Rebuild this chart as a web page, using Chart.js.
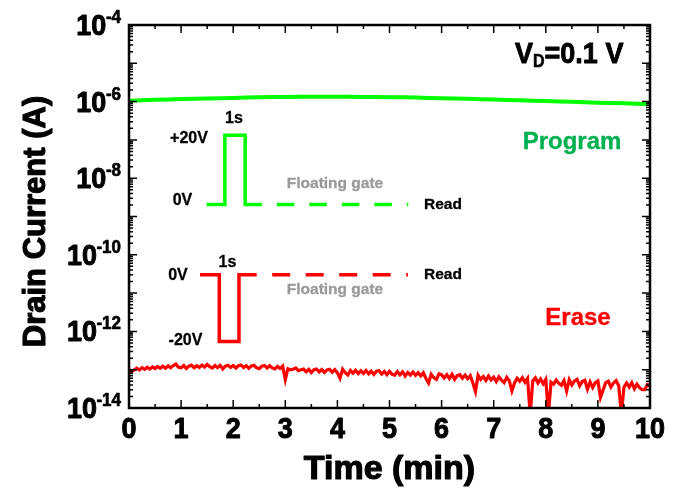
<!DOCTYPE html>
<html><head><meta charset="utf-8">
<script src="https://cdn.jsdelivr.net/npm/chart.js@4/dist/chart.umd.min.js"></script>
<style>html,body{margin:0;padding:0;background:#fff}canvas{display:block}</style>
</head><body>
<canvas id="c" width="677" height="492"></canvas>
<script>
// ---- Program (green) retention: time (min) / drain current (A)
const programTime = [0,0.25,0.5,0.75,1,1.25,1.5,1.75,2,2.25,2.5,2.75,3,3.25,3.5,3.75,4,4.25,4.5,4.75,5,5.25,5.5,5.75,6,6.25,6.5,6.75,7,7.25,7.5,7.75,8,8.25,8.5,8.75,9,9.25,9.5,9.75,10];
const programCurrent = [10.5e-7,10.8e-7,11.1e-7,11.4e-7,11.7e-7,11.9e-7,12.1e-7,12.3e-7,12.5e-7,12.7e-7,12.9e-7,13.1e-7,13.2e-7,13.3e-7,13.4e-7,13.3e-7,13.4e-7,13.3e-7,13.2e-7,13.2e-7,13.0e-7,12.9e-7,12.7e-7,12.5e-7,12.3e-7,12.1e-7,11.8e-7,11.6e-7,11.3e-7,11.0e-7,10.8e-7,10.6e-7,10.3e-7,10.1e-7,9.9e-7,9.6e-7,9.4e-7,9.2e-7,9.0e-7,8.8e-7,8.5e-7];

// ---- Erase (red) retention: time (min) / drain current (A)
const eraseTime = [0,0.05,0.1,0.15,0.2,0.25,0.3,0.35,0.4,0.45,0.5,0.55,0.6,0.65,0.7,0.75,0.8,0.85,0.9,0.95,
1,1.05,1.1,1.15,1.2,1.25,1.3,1.35,1.4,1.45,1.5,1.55,1.6,1.65,1.7,1.75,1.8,1.85,1.9,1.95,
2,2.05,2.1,2.15,2.2,2.25,2.3,2.35,2.4,2.45,2.5,2.55,2.6,2.65,2.7,2.75,2.8,2.85,2.9,2.95,
3,3.05,3.1,3.15,3.2,3.25,3.3,3.35,3.4,3.45,3.5,3.55,3.6,3.65,3.7,3.75,3.8,3.85,3.9,3.95,
4,4.05,4.1,4.15,4.2,4.25,4.3,4.35,4.4,4.45,4.5,4.55,4.6,4.65,4.7,4.75,4.8,4.85,4.9,4.95,
5,5.05,5.1,5.15,5.2,5.25,5.3,5.35,5.4,5.45,5.5,5.55,5.6,5.65,5.7,5.75,5.8,5.85,5.9,5.95,
6,6.05,6.1,6.15,6.2,6.25,6.3,6.35,6.4,6.45,6.5,6.55,6.6,6.65,6.7,6.75,6.8,6.85,6.9,6.95,
7,7.05,7.1,7.15,7.2,7.25,7.3,7.35,7.4,7.45,7.5,7.55,7.6,7.65,7.7,7.75,7.8,7.85,7.9,7.95,
8,8.05,8.1,8.15,8.2,8.25,8.3,8.35,8.4,8.45,8.5,8.55,8.6,8.65,8.7,8.75,8.8,8.85,8.9,8.95,
9,9.05,9.1,9.15,9.2,9.25,9.3,9.35,9.4,9.45,9.5,9.55,9.6,9.65,9.7,9.75,9.8,9.85,9.9,9.95,10];
const eraseCurrent = [10.0e-14,8.9e-14,9.9e-14,10.9e-14,9.8e-14,11.3e-14,10.2e-14,11.6e-14,10.4e-14,11.8e-14,10.7e-14,12.1e-14,10.9e-14,12.3e-14,11.0e-14,12.6e-14,11.2e-14,12.8e-14,14.0e-14,11.6e-14,
11.2e-14,12.9e-14,10.8e-14,12.4e-14,13.1e-14,11.2e-14,12.7e-14,11.4e-14,13.2e-14,11.7e-14,13.7e-14,12.0e-14,11.0e-14,12.9e-14,11.3e-14,13.0e-14,10.4e-14,12.4e-14,13.1e-14,11.5e-14,
12.9e-14,11.1e-14,12.7e-14,13.3e-14,11.3e-14,12.8e-14,10.9e-14,12.6e-14,13.0e-14,11.2e-14,10.6e-14,12.3e-14,12.9e-14,11.0e-14,12.7e-14,11.1e-14,10.5e-14,12.2e-14,10.8e-14,12.4e-14,
5.5e-14,10.6e-14,9.9e-14,10.3e-14,11.1e-14,9.5e-14,10.0e-14,10.4e-14,8.8e-14,10.2e-14,8.4e-14,10.0e-14,10.4e-14,8.7e-14,10.1e-14,8.5e-14,9.9e-14,10.3e-14,8.6e-14,10.0e-14,
8.3e-14,6.0e-14,10.3e-14,8.4e-14,7.3e-14,9.6e-14,8.1e-14,9.7e-14,7.9e-14,9.4e-14,8.0e-14,9.5e-14,7.8e-14,9.2e-14,7.5e-14,9.1e-14,9.4e-14,7.7e-14,9.0e-14,7.4e-14,
9.1e-14,7.6e-14,7.2e-14,8.9e-14,7.4e-14,8.8e-14,6.8e-14,8.5e-14,7.2e-14,8.7e-14,7.1e-14,8.4e-14,6.9e-14,8.3e-14,5.9e-14,4.5e-14,7.6e-14,6.2e-14,5.6e-14,7.8e-14,
7.3e-14,6.1e-14,7.4e-14,5.9e-14,7.6e-14,5.6e-14,7.0e-14,7.4e-14,6.0e-14,7.2e-14,5.8e-14,7.0e-14,4.5e-14,2.7e-14,7.2e-14,5.6e-14,6.6e-14,5.2e-14,6.8e-14,5.4e-14,
6.4e-14,4.9e-14,6.5e-14,5.3e-14,4.6e-14,6.3e-14,5.1e-14,2.8e-14,4.5e-14,6.0e-14,5.0e-14,6.2e-14,4.7e-14,5.9e-14,0.7e-14,5.1e-14,6.1e-14,4.5e-14,5.7e-14,4.3e-14,
5.6e-14,0.7e-14,4.7e-14,4.2e-14,5.4e-14,4.4e-14,3.9e-14,5.2e-14,2.8e-14,5.5e-14,4.0e-14,5.1e-14,5.6e-14,3.8e-14,4.9e-14,5.3e-14,3.1e-14,4.8e-14,3.4e-14,4.6e-14,
5.1e-14,1.9e-14,3.0e-14,4.6e-14,5.0e-14,3.5e-14,4.5e-14,5.2e-14,3.8e-14,0.7e-14,3.5e-14,4.5e-14,3.5e-14,4.6e-14,3.2e-14,4.2e-14,3.4e-14,3.0e-14,3.0e-14,4.1e-14,3.7e-14];

// ---- Inset schematic gate waveforms (drawn on the chart axes)
const programPulseTime  = [1.49, 1.84, 1.84, 2.23, 2.23, 2.55];
const programPulseLevel = [2.06e-9, 2.06e-9, 1.32e-7, 1.32e-7, 2.06e-9, 2.06e-9];
const programReadTime   = [2.55, 5.36];
const programReadLevel  = [2.06e-9, 2.06e-9];
const erasePulseTime    = [1.363, 1.733, 1.733, 2.111, 2.111, 2.451];
const erasePulseLevel   = [3.03e-11, 3.03e-11, 5.44e-13, 5.44e-13, 3.03e-11, 3.03e-11];
const eraseReadTime     = [2.451, 5.355];
const eraseReadLevel    = [3.03e-11, 3.03e-11];

// ---- Axis ticks / labels
const xTickValues = [0,1,2,3,4,5,6,7,8,9,10];
const xMinorTickValues = [0.5,1.5,2.5,3.5,4.5,5.5,6.5,7.5,8.5,9.5];
const yDecadeExponents = [-14,-13,-12,-11,-10,-9,-8,-7,-6,-5,-4];
const yLabelExponents = [-4,-6,-8,-10,-12,-14];
const xTitle = 'Time (min)';
const yTitle = 'Drain Current (A)';

function pts(xs, ys){ return xs.map((x,i)=>({x:x, y:ys[i]})); }

const GREEN = '#00ff00', RED = '#ff0000';
const F = '"Liberation Sans", Arial, sans-serif';

function txt(ctx, s, x, y, size, color, align, base, sy, sw){
  ctx.save();
  ctx.translate(x, y);
  ctx.scale(1, sy || 1);
  ctx.font = 'bold ' + size + 'px ' + F;
  ctx.fillStyle = color;
  ctx.textAlign = align || 'center';
  ctx.textBaseline = base || 'middle';
  ctx.fillText(s, 0, 0);
  if (sw) { ctx.strokeStyle = color; ctx.lineWidth = sw; ctx.lineJoin = 'round'; ctx.strokeText(s, 0, 0); }
  ctx.restore();
}

const annotations = [
  {t:'+20V', x:1.152, y:1.10e-7, s:16, c:'#000'},
  {t:'1s', x:2.015, y:3.56e-7, s:16, c:'#000'},
  {t:'0V', x:1.027, y:2.62e-9, s:16, c:'#000'},
  {t:'Floating gate', x:3.954, y:7.1e-9, s:15.5, c:'#9a9a9a'},
  {t:'Read', x:6.027, y:2.06e-9, s:15.5, c:'#000'},
  {t:'0V', x:0.94, y:2.85e-11, s:16, c:'#000'},
  {t:'1s', x:1.891, y:6.25e-11, s:16, c:'#000'},
  {t:'-20V', x:1.084, y:5.68e-13, s:16, c:'#000'},
  {t:'Floating gate', x:3.954, y:1.25e-11, s:15.5, c:'#9a9a9a'},
  {t:'Read', x:6.027, y:3.03e-11, s:15.5, c:'#000'},
  {t:'Program', x:8.503, y:8.65e-8, s:24, c:'#00b050'},
  {t:'Erase', x:8.618, y:2.14e-12, s:24, c:RED}
];

const framePlugin = {
  id: 'frame',
  afterDatasetsDraw(chart){
    const ctx = chart.ctx, a = chart.chartArea;
    const xs = chart.scales.x, ys = chart.scales.y;
    ctx.save();
    ctx.strokeStyle = '#000';
    ctx.lineWidth = 1.5;
    ctx.beginPath();
    yDecadeExponents.forEach(e => {
      const py = ys.getPixelForValue(Math.pow(10, e));
      ctx.moveTo(a.left, py); ctx.lineTo(a.left + 8, py);
      ctx.moveTo(a.right, py); ctx.lineTo(a.right - 8, py);
      if (e < -4) {
        for (let m = 2; m <= 9; m++) {
          const p = ys.getPixelForValue(m * Math.pow(10, e));
          ctx.moveTo(a.left, p); ctx.lineTo(a.left + 4, p);
          ctx.moveTo(a.right, p); ctx.lineTo(a.right - 4, p);
        }
      }
    });
    xTickValues.forEach(v => {
      const px = xs.getPixelForValue(v);
      ctx.moveTo(px, a.bottom); ctx.lineTo(px, a.bottom - 8);
      ctx.moveTo(px, a.top); ctx.lineTo(px, a.top + 8);
    });
    xMinorTickValues.forEach(v => {
      const px = xs.getPixelForValue(v);
      ctx.moveTo(px, a.bottom); ctx.lineTo(px, a.bottom - 4);
      ctx.moveTo(px, a.top); ctx.lineTo(px, a.top + 4);
    });
    ctx.stroke();
    ctx.lineWidth = 2.5;
    ctx.strokeRect(a.left, a.top, a.right - a.left, a.bottom - a.top);
    ctx.restore();

    yLabelExponents.forEach(e => {
      const py = ys.getPixelForValue(Math.pow(10, e));
      const exp = String(e);
      ctx.save();
      ctx.font = 'bold 17px ' + F;
      const ew = ctx.measureText(exp).width;
      ctx.restore();
      const right = a.left - 8;
      txt(ctx, exp, right, py - 2, 17, '#000', 'right', 'alphabetic', 1.1, 0.6);
      txt(ctx, '10', right - ew + 0.5, py + 10, 27, '#000', 'right', 'alphabetic', 1.1, 0.9);
    });
    xTickValues.forEach(v => {
      txt(ctx, String(v), xs.getPixelForValue(v), a.bottom + 30, 27, '#000', 'center', 'alphabetic', 1.1, 0.9);
    });
    txt(ctx, xTitle, (a.left + a.right) / 2, 479, 34, '#000', 'center', 'alphabetic', 1, 1.2);
    ctx.save();
    ctx.translate(45, (a.top + a.bottom) / 2 + 5);
    ctx.rotate(-Math.PI / 2);
    txt(ctx, yTitle, 0, 0, 31, '#000', 'center', 'alphabetic', 1, 1.1);
    ctx.restore();

    annotations.forEach(n => {
      txt(ctx, n.t, xs.getPixelForValue(n.x), ys.getPixelForValue(n.y), n.s, n.c, 'center', 'middle', 1, 0.3);
    });
    const vx = xs.getPixelForValue(7.409), vy = ys.getPixelForValue(9.93e-6);
    ctx.save();
    ctx.font = 'bold 27px ' + F;
    const w1 = ctx.measureText('V').width;
    ctx.font = 'bold 16px ' + F;
    const w2 = ctx.measureText('D').width;
    ctx.restore();
    txt(ctx, 'V', vx, vy, 27, '#000', 'left', 'alphabetic', 1.1, 0.8);
    txt(ctx, 'D', vx + w1, vy + 4, 16, '#000', 'left', 'alphabetic', 1.1, 0.5);
    txt(ctx, '=0.1 V', vx + w1 + w2, vy, 27, '#000', 'left', 'alphabetic', 1.1, 0.8);
  }
};

new Chart(document.getElementById('c'), {
  type: 'line',
  data: {
    datasets: [
      {data: pts(programTime, programCurrent), borderColor: GREEN, borderWidth: 4},
      {data: pts(eraseTime, eraseCurrent), borderColor: RED, borderWidth: 3.2},
      {data: pts(programPulseTime, programPulseLevel), borderColor: GREEN, borderWidth: 3.5, borderJoinStyle: 'miter'},
      {data: pts(programReadTime, programReadLevel), borderColor: GREEN, borderWidth: 3.5, borderDash: [17.5, 15], borderDashOffset: 17.5},
      {data: pts(erasePulseTime, erasePulseLevel), borderColor: RED, borderWidth: 3.5, borderJoinStyle: 'miter'},
      {data: pts(eraseReadTime, eraseReadLevel), borderColor: RED, borderWidth: 3.5, borderDash: [18, 15.5], borderDashOffset: 18}
    ]
  },
  options: {
    responsive: false,
    animation: false,
    layout: {padding: {left: 129, right: 27, top: 25, bottom: 84}},
    plugins: {legend: {display: false}, tooltip: {enabled: false}},
    elements: {point: {radius: 0}, line: {tension: 0, fill: false}},
    scales: {
      x: {type: 'linear', min: 0, max: 10, display: false},
      y: {type: 'logarithmic', min: 1e-14, max: 1e-4, display: false}
    }
  },
  plugins: [framePlugin]
});
</script>
</body></html>
